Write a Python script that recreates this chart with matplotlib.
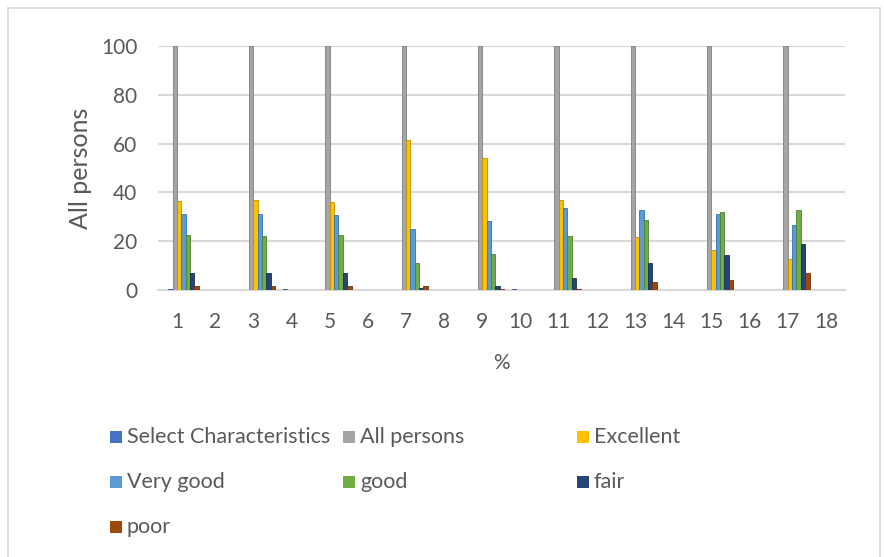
import numpy as np
import matplotlib
matplotlib.use("Agg")
import matplotlib.pyplot as plt
from matplotlib.lines import Line2D
from matplotlib.patches import Rectangle

plt.rcParams['font.family'] = ['Lato', 'DejaVu Sans']

# categories on the x axis
categories = [str(i) for i in range(1, 19)]

# series values per category (blank rows are zero)
select_char = [0.3, 0, 0, 0.3, 0, 0, 0, 0, 0, 0.3, 0, 0, 0, 0, 0, 0, 0, 0]
all_persons = [100, 0, 100, 0, 100, 0, 100, 0, 100, 0, 100, 0, 100, 0, 100, 0, 100, 0]
excellent = [36.6, 0, 36.8, 0, 36.2, 0, 61.5, 0, 53.9, 0, 37.0, 0, 21.9, 0, 16.5, 0, 12.9, 0]
very_good = [31.1, 0, 31.1, 0, 30.8, 0, 24.8, 0, 28.4, 0, 33.6, 0, 32.7, 0, 31.2, 0, 26.5, 0]
good = [22.5, 0, 22.2, 0, 22.6, 0, 11.0, 0, 14.6, 0, 22.1, 0, 28.8, 0, 32.0, 0, 32.7, 0]
fair = [6.8, 0, 6.8, 0, 6.8, 0, 0.8, 0, 1.6, 0, 4.8, 0, 11.2, 0, 14.3, 0, 18.7, 0]
poor = [1.8, 0, 1.7, 0, 1.8, 0, 1.7, 0, 0.5, 0, 0.6, 0, 3.4, 0, 4.1, 0, 7.1, 0]

series_names = ['Select Characteristics', 'All persons', 'Excellent',
                'Very good', 'good', 'fair', 'poor']
series = [select_char, all_persons, excellent, very_good, good, fair, poor]
colors = ['#4472C4', '#A5A5A5', '#FFC000', '#5B9BD5', '#70AD47', '#264478', '#9E480E']
edges = ['#2F5597', '#7F7F7F', '#BF9000', '#2E75B6', '#507E32', '#1A2F54', '#6E320A']

text_color = '#595959'
W, H = 884, 557

fig = plt.figure(figsize=(W / 100, H / 100), dpi=100)
ax = fig.add_axes([158 / W, 1 - 290 / H, 687 / W, 244 / H])

x = np.arange(len(categories))
w = 0.114
for i, (vals, c, ec) in enumerate(zip(series, colors, edges)):
    ax.bar(x + (i - 1.5) * w, vals, width=w, color=c, edgecolor=ec,
           linewidth=0.6, zorder=3)

ax.set_xlim(-0.5, len(categories) - 0.5)
ax.set_ylim(0, 100)
ax.set_yticks(np.arange(0, 101, 20))
ax.set_xticks(x)
ax.set_xticklabels(categories)
ax.grid(axis='y', color='#D9D9D9', linewidth=1.5, zorder=0)
for s in ['top', 'right', 'left']:
    ax.spines[s].set_visible(False)
ax.spines['bottom'].set_color('#D9D9D9')
ax.spines['bottom'].set_linewidth(1.5)
ax.tick_params(axis='both', length=0, labelsize=15, colors=text_color)
ax.tick_params(axis='x', pad=16)
ax.tick_params(axis='y', pad=15)

ax.set_xlabel('%', fontsize=15, color=text_color, labelpad=15)
ax.set_ylabel('All persons', fontsize=18, color=text_color, labelpad=6)

# legend below the plot: three entries per row
col_x = [110, 343, 577]
row_y = [437, 482, 527]
box = 12
for k, (name, c) in enumerate(zip(series_names, colors)):
    px, py = col_x[k % 3], row_y[k // 3]
    fig.add_artist(Rectangle((px / W, 1 - (py + box / 2) / H), box / W, box / H,
                             facecolor=c, edgecolor='none',
                             transform=fig.transFigure))
    fig.text((px + box + 5) / W, 1 - py / H, name, fontsize=15.5,
             color=text_color, va='center', ha='left')

# chart area border
for xs, ys in [([8, 8], [8, H]), ([8, 880], [8, 8]), ([880, 880], [8, H])]:
    fig.add_artist(Line2D([v / W for v in xs], [1 - v / H for v in ys],
                          color='#D9D9D9', linewidth=1.2))

fig.savefig('out.png', dpi=100)
